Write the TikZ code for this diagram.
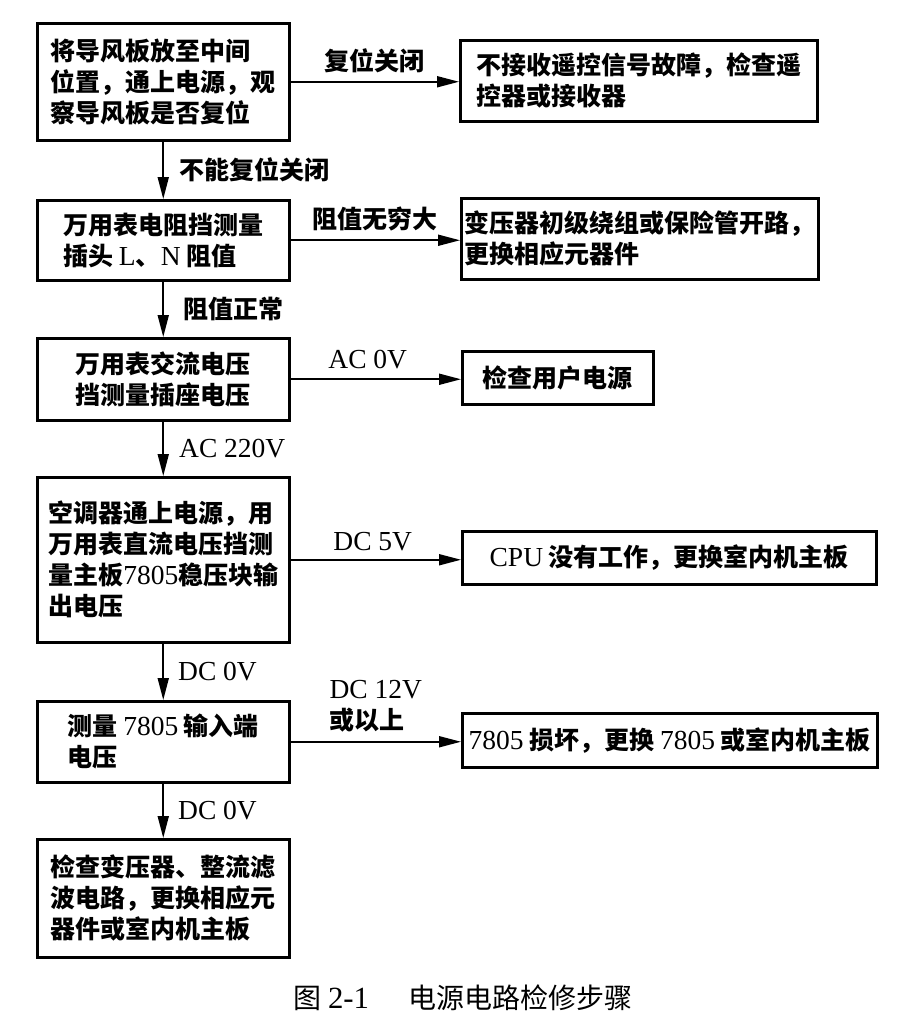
\documentclass[tikz,border=0pt]{standalone}
\usepackage{fontspec}
\setmainfont{Noto Sans CJK SC}
\newfontfamily\lat[Scale=1.1]{Liberation Serif}
\newcommand\E[1]{{\lat\mdseries #1}}
\usetikzlibrary{arrows.meta}
\tikzset{
  box/.style={draw, line width=2.5pt, inner sep=0pt, anchor=north west, align=left,
    font=\fontsize{25}{31}\selectfont\bfseries},
  arr/.style={line width=1.8pt, -{Triangle[length=22pt,width=11pt]}},
  lbl/.style={inner sep=0pt, align=left, font=\fontsize{25}{31}\selectfont\bfseries},
}
\begin{document}
\begin{tikzpicture}[x=1pt,y=-1pt]
\useasboundingbox[fill=white] (0,0) rectangle (900,1031);
% left column
\node[box, minimum width=252, minimum height=117] (b1) at (36,22)
  {将导风板放至中间\\位置，通上电源，观\\察导风板是否复位};
\node[box, minimum width=252, minimum height=80] (b2) at (36,199)
  {万用表电阻挡测量\\插头 \E{L}、\E{N} 阻值};
\node[box, minimum width=252, minimum height=82] (b3) at (36,337)
  {万用表交流电压\\挡测量插座电压};
\node[box, minimum width=252, minimum height=165] (b4) at (36,476)
  {空调器通上电源，用\\万用表直流电压挡测\\量主板\E{7805}稳压块输\\出电压};
\node[box, minimum width=252, minimum height=81] (b5) at (36,700)
  {测量 \E{7805} 输入端\\电压};
\node[box, minimum width=252, minimum height=118] (b6) at (36,838)
  {检查变压器、整流滤\\波电路，更换相应元\\器件或室内机主板};
% right column
\node[box, minimum width=357, minimum height=81] (r1) at (459,39)
  {不接收遥控信号故障，检查遥\\控器或接收器};
\node[box, minimum width=357, minimum height=81] (r2) at (460,197)
  {变压器初级绕组或保险管开路，\\更换相应元器件};
\node[box, minimum width=191, minimum height=53] (r3) at (461,350)
  {检查用户电源};
\node[box, minimum width=414, minimum height=53] (r4) at (461,530)
  {\E{CPU} 没有工作，更换室内机主板};
\node[box, minimum width=415, minimum height=54] (r5) at (461,712)
  {\E{7805} 损坏，更换 \E{7805} 或室内机主板};
% horizontal connectors
\draw[arr] (b1.east) -- (r1.west |- b1.east)
  node[lbl, midway, yshift=21pt] (l1) {复位关闭};
\draw[arr] (b2.east) -- (r2.west |- b2.east)
  node[lbl, midway, yshift=21pt] (l2) {阻值无穷大};
\draw[arr] (b3.east) -- (r3.west |- b3.east)
  node[lbl, midway, yshift=20pt, xshift=-8pt] (l3) {\E{AC 0V}};
\draw[arr] (b4.east) -- (r4.west |- b4.east)
  node[lbl, midway, yshift=18pt, xshift=-3pt] (l4) {\E{DC 5V}};
\draw[arr] (b5.east) -- (r5.west |- b5.east)
  node[lbl, midway, yshift=36pt] (l5) {\E{DC 12V}\\或以上};
% vertical connectors
\draw[arr] (b1.south) -- (b2.north)
  node[lbl, midway, anchor=west, xshift=15pt] (d1) {不能复位关闭};
\draw[arr] (b2.south) -- (b3.north)
  node[lbl, midway, anchor=west, xshift=19pt] (d2) {阻值正常};
\draw[arr] (b3.south) -- (b4.north)
  node[lbl, midway, anchor=west, xshift=15pt] (d3) {\E{AC 220V}};
\draw[arr] (b4.south) -- (b5.north)
  node[lbl, midway, anchor=west, xshift=14pt] (d4) {\E{DC 0V}};
\draw[arr] (b5.south) -- (b6.north)
  node[lbl, midway, anchor=west, xshift=14pt] (d5) {\E{DC 0V}};
% caption
\node[inner sep=0pt, font=\fontsize{28}{32}\selectfont] (cap) at (463,998)
  {图 \E{2-1}\hspace{1.4em}电源电路检修步骤};
\end{tikzpicture}
\end{document}
